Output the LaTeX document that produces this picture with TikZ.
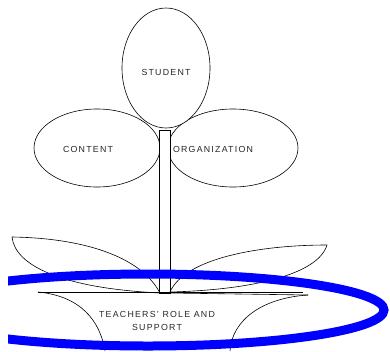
\documentclass[tikz,border=0pt]{standalone}
\usepackage{fontspec}
\setmainfont{Liberation Sans}[LetterSpace=14]
\begin{document}
\begin{tikzpicture}[x=1pt,y=-1pt,
  outl/.style={draw=black,line width=0.6pt},
  lbl/.style={font=\fontsize{8.8}{13.5}\selectfont,text=black!85,inner sep=0pt,align=center}]
\useasboundingbox (0,0) rectangle (390,351);
% flowers
\draw[outl,fill=white] (97,148) ellipse [x radius=63,y radius=39];
\draw[outl,fill=white] (233,148) ellipse [x radius=65,y radius=39];
\draw[outl,fill=white] (166,68) ellipse [x radius=44,y radius=60];
% stem
\draw[outl,fill=white] (159,130) rectangle (170,293);
% leaves
\draw[outl] (12,237) .. controls (80,238) and (140,255) .. (160,293);
\draw[outl] (12,237) .. controls (15,265) and (60,288) .. (160,293);
\draw[outl] (327,245) .. controls (260,245) and (185,258) .. (170,292);
\draw[outl] (327,245) .. controls (318,275) and (250,290) .. (170,292);
% pot
\draw[outl] (38,292) -- (303,292);
\draw[outl] (170,293) -- (308,295);
\draw[outl] (38,292) .. controls (80,296) and (100,320) .. (105,351);
\draw[outl] (308,295) .. controls (262,298) and (232,320) .. (230,351);
% labels
\node[lbl] (student) at (166,72) {STUDENT};
\node[lbl] (content) at (88,149) {CONTENT};
\node[lbl] (org) at (213,149) {ORGANIZATION};
\node[lbl] (teach) at (157,321) {TEACHERS' ROLE AND\\SUPPORT};
% blue ring
\begin{scope}
\clip (8,0) rectangle (390,351);
\draw[blue,line width=9pt] (148,310) ellipse [x radius=236,y radius=36];
\end{scope}
\end{tikzpicture}
\end{document}
